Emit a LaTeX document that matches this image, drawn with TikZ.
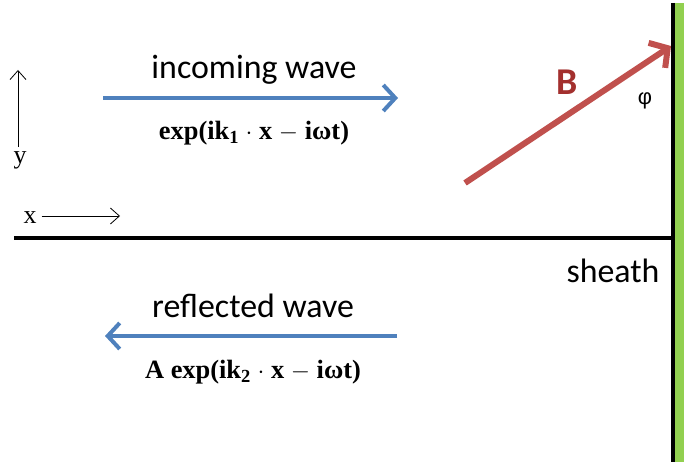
\documentclass[tikz,border=0pt]{standalone}
\usepackage{fontspec}
\setmainfont{Liberation Serif}
\newfontfamily\calib{Carlito}
\newfontfamily\greeksans{Liberation Sans}
\usepackage{xcolor}
\usepackage{tikz}
\usetikzlibrary{positioning, arrows.meta}
\definecolor{waveblue}{HTML}{4F81BD}
\definecolor{fieldred}{HTML}{C0504D}
\definecolor{labelred}{HTML}{A3302E}
\definecolor{sheathgreen}{HTML}{92D050}
\tikzset{
  wave/.style={draw=waveblue, line width=4bp, -{Straight Barb[length=12bp, width=26bp, line width=4bp]}},
  field/.style={draw=fieldred, line width=6bp, -{Straight Barb[length=13bp, width=30bp, line width=6bp]}},
  axis/.style={draw=black, line width=0.8bp, -{Straight Barb[length=9bp, width=16bp, line width=0.8bp]}},
  caption/.style={font=\calib\fontsize{34}{38}\selectfont, inner sep=0pt},
  formula/.style={font=\bfseries\fontsize{26.5}{30}\selectfont, inner sep=0pt},
  axislabel/.style={font=\fontsize{26}{28}\selectfont, inner sep=0pt}
}

\begin{document}
\begin{tikzpicture}[x=1bp, y=-1bp]
  \useasboundingbox (0,0) rectangle (684,465);

  % sheath wall and boundary
  \fill[sheathgreen] (675,3) rectangle (684,462);
  \coordinate (wallTop) at (673,3);
  \coordinate (wallBot) at (673,462);
  \draw[line width=4bp] (wallTop) -- (wallBot);
  \coordinate (lineL) at (14,238);
  \coordinate (lineR) at (672,238);
  \draw[line width=4bp] (lineL) -- (lineR);
  \node[caption] (sheath) at (613,271) {sheath};

  % axes
  \node[axislabel] (ylab) at (20,160) {y};
  \coordinate (ytip) at (18,70);
  \draw[axis] (ylab.north -| ytip) ++(0,-4) -- (ytip);
  \node[axislabel] (xlab) at (30,218) {x};
  \coordinate (xtip) at (120,216);
  \draw[axis] (xlab.east |- xtip) ++(5,0) -- (xtip);

  % incoming wave
  \coordinate (inL) at (103,98);
  \coordinate (inR) at (398,98);
  \draw[wave] (inL) -- (inR);
  \node[caption] (inlab) at (254,70) {incoming wave};
  \node[formula] (inexp) at (254,133) {exp(ik\textsubscript{1} $\cdot$ x $-$ iωt)};

  % reflected wave
  \coordinate (reR) at (397,336);
  \coordinate (reL) at (105,336);
  \draw[wave] (reR) -- (reL);
  \node[caption] (relab) at (253,306) {reflected wave};
  \node[formula] (reexp) at (253,372) {A exp(ik\textsubscript{2} $\cdot$ x $-$ iωt)};

  % magnetic field
  \coordinate (Bstart) at (465,183);
  \coordinate (Bend) at (671,46);
  \draw[field] (Bstart) -- (Bend);
  \node[caption, font=\calib\bfseries\fontsize{38}{40}\selectfont, text=labelred] (Blab) at (567,82) {B};
  \node[font=\greeksans\fontsize{22}{24}\selectfont, inner sep=0pt] (phi) at (645,101) {φ};
\end{tikzpicture}
\end{document}
